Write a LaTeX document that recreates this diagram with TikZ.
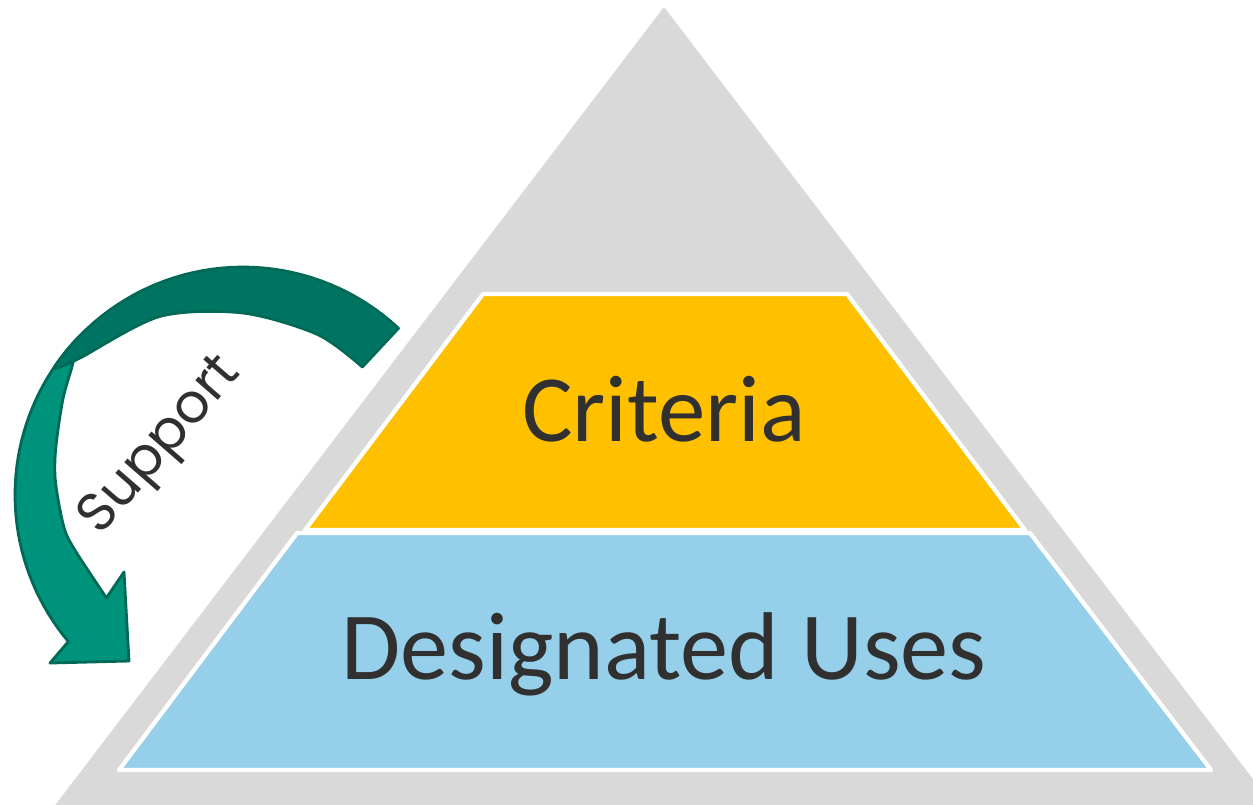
\documentclass[tikz,border=0pt]{standalone}
\usepackage{fontspec}
\setmainfont{Carlito}
\newfontfamily\suppfont{Poppins}
\definecolor{pyrgray}{HTML}{D9D9D9}
\definecolor{critfill}{HTML}{FFC000}
\definecolor{usesfill}{HTML}{96CFE9}
\definecolor{txtgray}{HTML}{303030}
\definecolor{darkteal}{HTML}{007462}
\definecolor{lightteal}{HTML}{00937C}
\definecolor{tealline}{HTML}{006A57}
\begin{document}
\begin{tikzpicture}[x=0.1mm, y=-0.1mm, line join=round, line cap=round,
 layer/.style={draw=white, line width=1.2pt},
 band/.style={draw=tealline, line width=0.8pt}]
 \useasboundingbox (0,0) rectangle (1253,804);
 \clip (0,0) rectangle (1253,804);
 \fill[pyrgray] (664,7)--(40,825)--(1288,825)--cycle;
 \filldraw[critfill, layer] (483,294)--(847,294)--(1025,530)--(305,530)--cycle;
 \filldraw[usesfill, layer] (297,533)--(1030,533)--(1211,770)--(119,770)--cycle;
 \path
 (664,441) node[anchor=base, text=txtgray, font=\fontsize{27}{27}\selectfont] (crit) {Criteria}
 (664,679) node[anchor=base, text=txtgray, font=\fontsize{27.4}{27.4}\selectfont] (uses) {Designated Uses};
 \begin{scope}[shift={(243,495)}]
 \filldraw[lightteal, band] plot[domain=-136:-220, samples=40] (\x:228)
  -- (-193,168) -- (-114,166) -- (-119,77)
  -- plot[smooth] coordinates {(-217:171) (-198:177) (-190:182) (-176:188) (-166:193) (-152:204) (-143:214) (-136:228)}
  -- cycle;
 \filldraw[darkteal, band] plot[domain=-47:-146, samples=40] (\x:228)
  -- plot[smooth] coordinates {(-146:226) (-140:213) (-115:197) (-90:182) (-65:177) (-47:175)}
  -- cycle;
 \end{scope}
 \node[rotate=49, text=txtgray, font=\suppfont\fontsize{15.5}{15.5}\selectfont] (supp) at (162,447) {Support};
\end{tikzpicture}
\end{document}
